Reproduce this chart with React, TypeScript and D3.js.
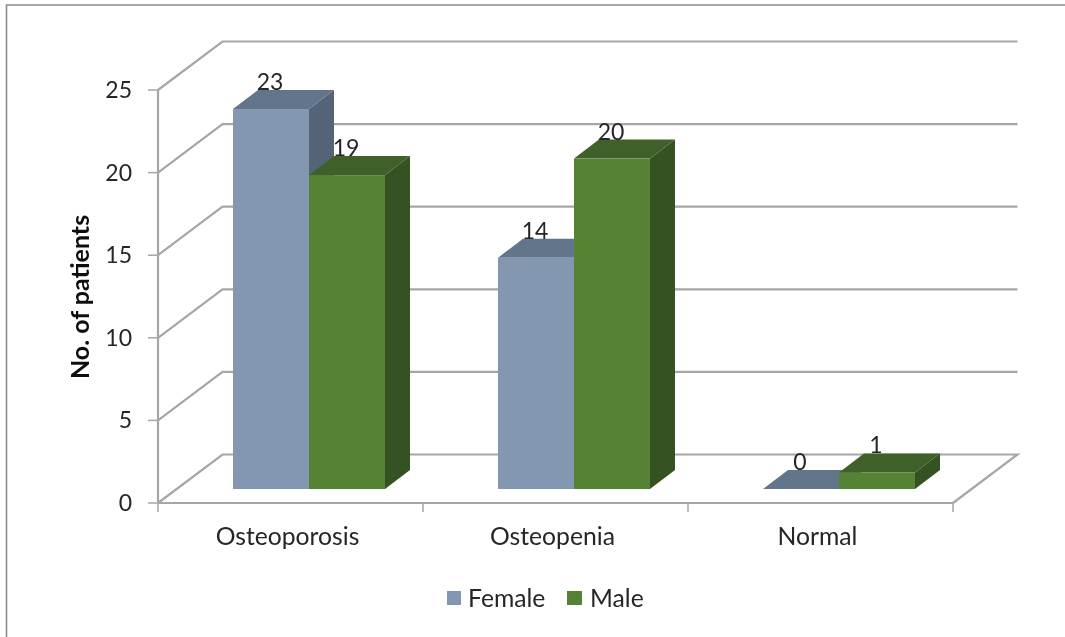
import React from "react";
import * as d3 from "d3";

const categories = ["Osteoporosis", "Osteopenia", "Normal"];
const seriesNames = ["Female", "Male"];
const femaleValues = [23, 14, 0];
const maleValues = [19, 20, 1];
const yTicks = [0, 5, 10, 15, 20, 25];
const seriesFront = ["#8497b0", "#548235"];
const seriesTop = ["#64748a", "#41602a"];
const seriesSide = ["#556376", "#355321"];

const W = 1065, H = 637;
const FONT = "Lato, 'Open Sans', sans-serif";
const TXT = "#262626";
const GRID = "#a6a6a6";

const x0 = 158, x1 = 953;
const wallDx = 64.5, wallDy = 48.5;
const barInsetX = 18.5, barInsetY = 14;
const barDx = 25, barDy = 19;

const y = d3.scaleLinear().domain([0, 25]).range([503, 90]);
const xCat = d3.scaleBand<string>().domain(categories).range([x0, x1]).paddingInner(0.4264).paddingOuter(0.2132);
const xSeries = d3.scaleBand<string>().domain(seriesNames).range([0, xCat.bandwidth()]);
const values = [femaleValues, maleValues];
const pts = (a: [number, number][]) => a.map((p) => p.join(",")).join(" ");

export default function App() {
  const bars = seriesNames.flatMap((s, si) =>
    categories.map((c, ci) => {
      const v = values[si][ci];
      const l = (xCat(c) as number) + (xSeries(s) as number) + barInsetX;
      const r = l + xSeries.bandwidth();
      const top = y(v) - barInsetY;
      const bot = y(0) - barInsetY;
      return { s, si, c, ci, v, l, r, top, bot };
    })
  );
  const ordered = [...bars].sort((a, b) => a.ci - b.ci || a.si - b.si);
  return (
    <svg width={W} height={H} style={{ position: "absolute", left: 0, top: 0, background: "#fff" }} fontFamily={FONT}>
      <defs>
        <filter id="soft" x="0" y="0" width="100%" height="100%" filterUnits="userSpaceOnUse" primitiveUnits="userSpaceOnUse">
          <feGaussianBlur stdDeviation="0.35" />
        </filter>
      </defs>
      <g filter="url(#soft)">
        <rect x={0} y={0} width={W} height={H} fill="#fff" />
        <path d={`M6.5,${H}V5H${W}`} fill="none" stroke="#8c8c8c" strokeWidth={1.6} />

        {yTicks.map((t) => (
          <g key={t}>
            <polyline
              points={pts(t === 0
                ? [[x0, y(t)], [x0 + wallDx, y(t) - wallDy], [x1 + wallDx, y(t) - wallDy], [x1, y(t)]]
                : [[x0, y(t)], [x0 + wallDx, y(t) - wallDy], [x1 + wallDx, y(t) - wallDy]])}
              fill="none" stroke={GRID} strokeWidth={2.2}
            />
            <line x1={x0 - 10} x2={x0} y1={y(t)} y2={y(t)} stroke={GRID} strokeWidth={1.5} />
            <text x={132} y={y(t) + 8} textAnchor="end" fontSize={23} fill={TXT}>{t}</text>
          </g>
        ))}
        <line x1={x0} x2={x0} y1={y(25)} y2={y(0)} stroke={GRID} strokeWidth={2.2} />
        <line x1={x0} x2={x1} y1={y(0)} y2={y(0)} stroke={GRID} strokeWidth={2.2} />
        {[0, 1, 2, 3].map((i) => {
          const x = x0 + (i * (x1 - x0)) / 3;
          return <line key={i} x1={x} x2={x} y1={y(0)} y2={y(0) + 9} stroke={GRID} strokeWidth={1.5} />;
        })}

        {ordered.map((b) => (
          <g key={`${b.s}-${b.c}`}>
            <polygon points={pts([[b.r, b.bot], [b.r + barDx, b.bot - barDy], [b.r + barDx, b.top - barDy], [b.r, b.top]])} fill={seriesSide[b.si]} />
            <polygon points={pts([[b.l, b.top], [b.l + barDx, b.top - barDy], [b.r + barDx, b.top - barDy], [b.r, b.top]])} fill={seriesTop[b.si]} />
            <rect x={b.l} y={b.top} width={b.r - b.l} height={b.bot - b.top} fill={seriesFront[b.si]} />
          </g>
        ))}
        {ordered.map((b) => (
          <text key={`l-${b.s}-${b.c}`} x={(b.l + b.r) / 2 - 1} y={b.top - 19} textAnchor="middle" fontSize={23} fill={TXT}>{b.v}</text>
        ))}

        {categories.map((c) => (
          <text key={c} x={(xCat(c) as number) + xCat.bandwidth() / 2 - 3} y={545} textAnchor="middle" fontSize={24.7} fill={TXT}>{c}</text>
        ))}

        <text transform="translate(89,297) rotate(-90)" textAnchor="middle" fontSize={25} fontWeight={700} fill="#111">No. of patients</text>

        <rect x={447} y={591} width={14} height={14} fill={seriesFront[0]} />
        <text x={468} y={607} fontSize={24.7} fill={TXT}>{seriesNames[0]}</text>
        <rect x={567} y={591} width={15} height={14} fill={seriesFront[1]} />
        <text x={590} y={607} fontSize={24.7} fill={TXT}>{seriesNames[1]}</text>
      </g>
    </svg>
  );
}
